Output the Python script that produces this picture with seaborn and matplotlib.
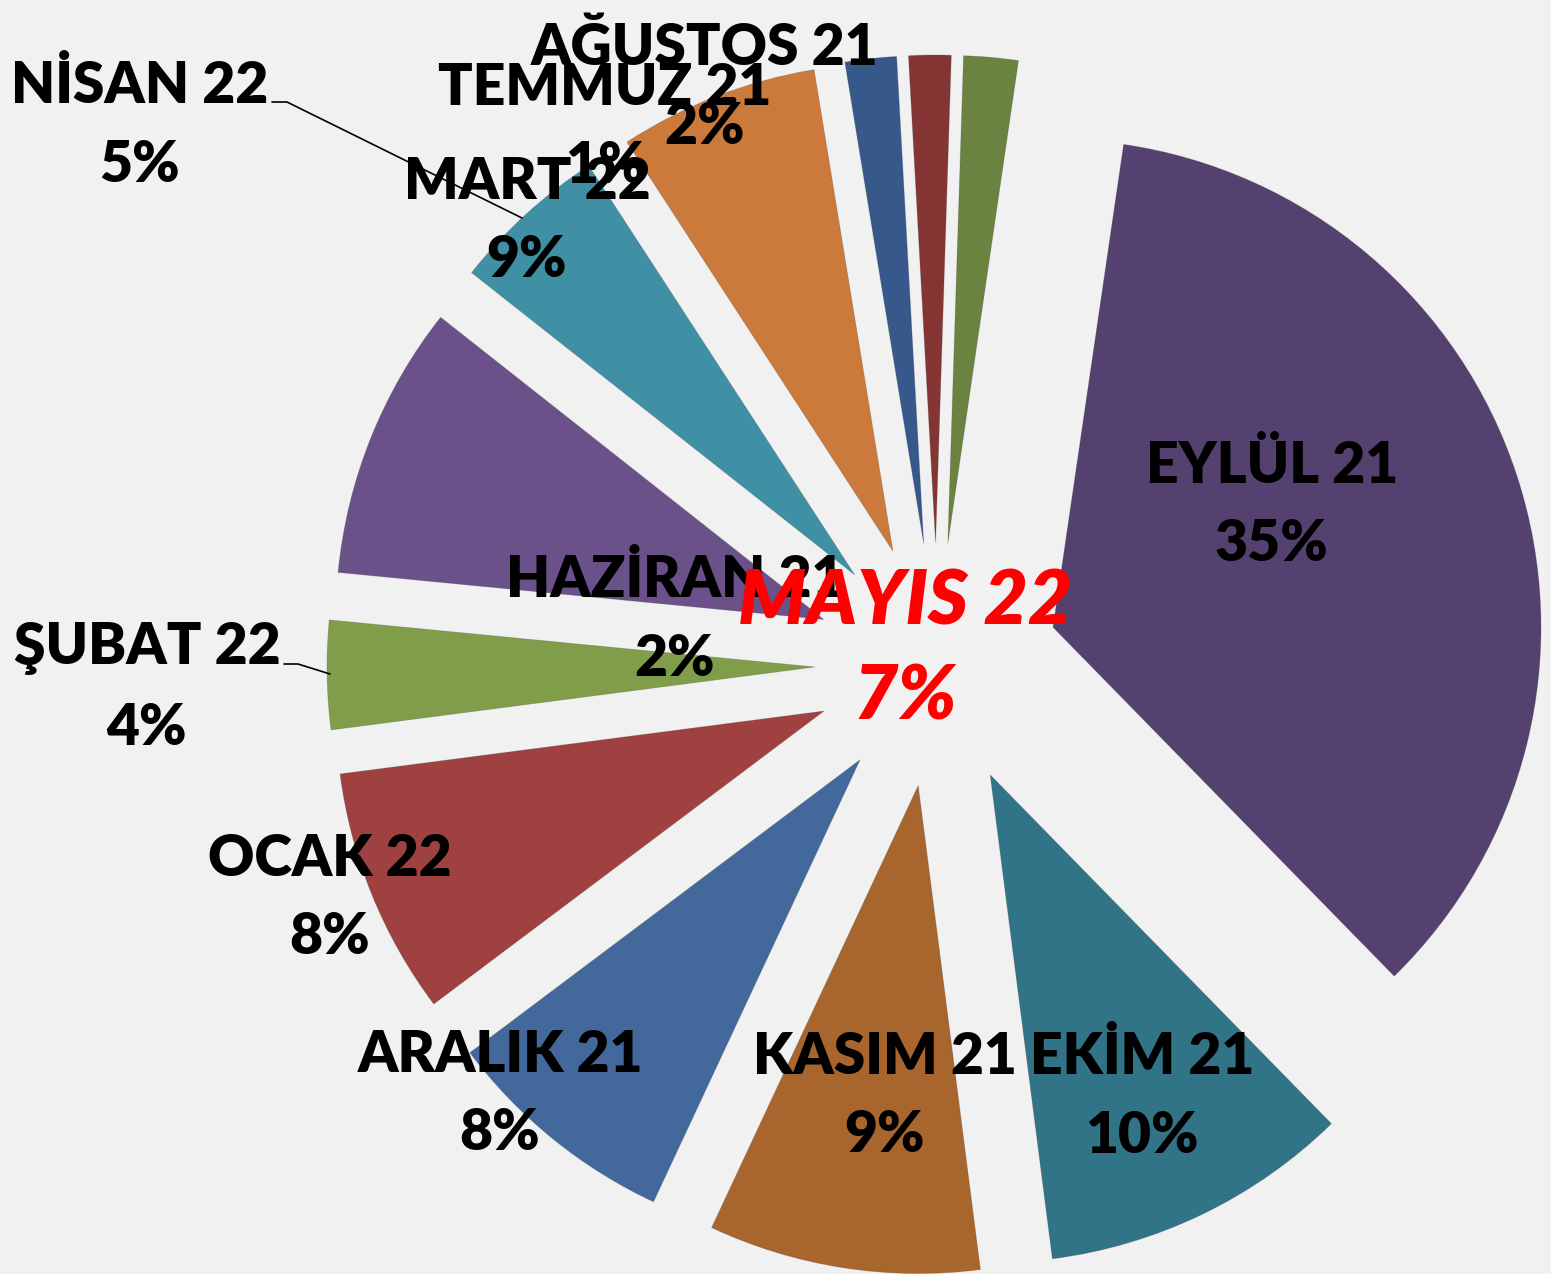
import matplotlib
matplotlib.use("Agg")
import matplotlib.pyplot as plt
import seaborn as sns

sns.set_theme(style="white")
plt.rcParams['font.family'] = ['Lato', 'DejaVu Sans']

# ---- data (shares; labels as printed) ----
months = ["HAZİRAN 21", "TEMMUZ 21", "AĞUSTOS 21", "EYLÜL 21", "EKİM 21",
          "KASIM 21", "ARALIK 21", "OCAK 22", "ŞUBAT 22", "MART 22",
          "NİSAN 22", "MAYIS 22"]
shares = [1.7, 1.4, 1.8, 35.4, 10.3, 9.0, 7.8, 8.2, 3.6, 9.1, 5.2, 6.6]
pct_labels = ["2%", "1%", "2%", "35%", "10%", "9%", "8%", "8%", "4%", "9%", "5%", "7%"]

# ---- style ----
colors = ["#36588A", "#843533", "#6A8340", "#54416F", "#317487", "#A9652E",
          "#43699C", "#9F4141", "#809E4A", "#6A5189", "#3F8FA5", "#CB7A3B"]
bg = "#F1F1F1"

W, H = 1551, 1274
cx, cy, R = 937, 665, 488  # pixel centre / radius


def to_data(px, py):
    return (px - cx) / R, (cy - py) / R


# label block centres in pixels (layout)
label_px = [(675, 619), (605, 127), (705, 87), (1272, 505), (1142, 1096),
            (885, 1096), (500, 1094), (330, 898), (147, 688), (527, 221),
            (140, 125), (905, 650)]

fig = plt.figure(figsize=(W / 100, H / 100), dpi=100, facecolor=bg)
ax = fig.add_axes([0, 0, 1, 1])
ax.set_facecolor(bg)

ax.pie(shares, colors=colors, explode=[0.25] * len(shares), startangle=99.3,
       counterclock=False, radius=1.0,
       wedgeprops=dict(linewidth=0.6, edgecolor="#3a3a3a40"))

x0, y0 = to_data(0, H)
x1, y1 = to_data(W, 0)
ax.set_xlim(x0, x1)
ax.set_ylim(y0, y1)
ax.set_aspect("auto")
ax.axis("off")

# leader lines
for pts in ([(272, 102), (287, 102), (522, 218)],
            [(284, 664), (298, 664), (330, 674)]):
    xs, ys = zip(*[to_data(*p) for p in pts])
    ax.plot(xs, ys, color="black", lw=1.2, zorder=5)

for name, pct, (px, py) in zip(months, pct_labels, label_px):
    x, y = to_data(px, py)
    if name == "MAYIS 22":
        ax.text(x, y, f"{name}\n{pct}", ha="center", va="center",
                fontsize=55, fontweight="heavy", fontstyle="italic",
                color="#FF0000", linespacing=1.45, zorder=6)
    else:
        ax.text(x, y, f"{name}\n{pct}", ha="center", va="center",
                fontsize=41, fontweight="heavy", color="black",
                linespacing=1.62, zorder=6)

fig.savefig("out.png", dpi=100, facecolor=bg)
